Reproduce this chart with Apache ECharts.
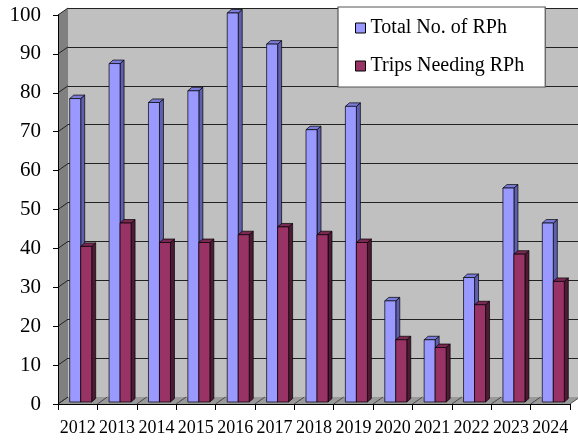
<!DOCTYPE html>
<html>
<head>
<meta charset="utf-8">
<script src="https://cdn.jsdelivr.net/npm/echarts@6/dist/echarts.min.js"></script>
<style>
html,body{margin:0;padding:0;background:#fff;}
#main{width:578px;height:441px;}
</style>
</head>
<body>
<div id="main"></div>
<script>
// ---- data ----
const years = ['2012','2013','2014','2015','2016','2017','2018','2019','2020','2021','2022','2023','2024'];
const totalRPh = [78, 87, 77, 80, 100, 92, 70, 76, 26, 16, 32, 55, 46];
const tripsNeedingRPh = [40, 46, 41, 41, 43, 45, 43, 41, 16, 14, 25, 38, 31];
const yTicks = [0, 10, 20, 30, 40, 50, 60, 70, 80, 90, 100];

// ---- layout (px) ----
const FRONT = {left: 58, top: 15, right: 570, bottom: 404};
const DEPTH = [10, -7];      // wall depth offset
const BAR_OFF = [3, -2];     // bar front plane offset
const BAR_D = [4, -3.5];     // bar depth
const BAR_W = 11;
const FONT = "Liberation Serif, DejaVu Serif, serif";

const chart = echarts.init(document.getElementById('main'), null, {renderer: 'canvas'});

function makeRender(s, front, top, side) {
  return function (params, api) {
    const i = api.value(0), v = api.value(1);
    const base = api.coord([i, 0]);
    const tp = api.coord([i, v]);
    const x0 = base[0] + BAR_OFF[0] - BAR_W + s * BAR_W;
    const yb = base[1] + BAR_OFF[1];
    const yt = tp[1] + BAR_OFF[1];
    const dx = BAR_D[0], dy = BAR_D[1];
    const stroke = {stroke: '#000', lineWidth: 0.7};
    return {
      type: 'group',
      children: [
        {type: 'polygon', shape: {points: [[x0 + BAR_W, yt], [x0 + BAR_W + dx, yt + dy], [x0 + BAR_W + dx, yb + dy], [x0 + BAR_W, yb]]},
          style: Object.assign({fill: side}, stroke)},
        {type: 'polygon', shape: {points: [[x0, yt], [x0 + dx, yt + dy], [x0 + BAR_W + dx, yt + dy], [x0 + BAR_W, yt]]},
          style: Object.assign({fill: top}, stroke)},
        {type: 'rect', shape: {x: x0, y: yt, width: BAR_W, height: yb - yt},
          style: Object.assign({fill: front}, stroke)}
      ]
    };
  };
}

const yScale = (FRONT.bottom - FRONT.top) / 100;
function yF(v) { return FRONT.bottom - v * yScale; }

// decorative walls
const graphics = [];
graphics.push({type: 'polygon', z: 1, silent: true,
  shape: {points: [[FRONT.left, FRONT.top], [FRONT.left + DEPTH[0], FRONT.top + DEPTH[1]],
                   [FRONT.left + DEPTH[0], FRONT.bottom + DEPTH[1]], [FRONT.left, FRONT.bottom]]},
  style: {fill: '#808080'}});
graphics.push({type: 'polygon', z: 1, silent: true,
  shape: {points: [[FRONT.left, FRONT.bottom], [FRONT.right, FRONT.bottom],
                   [FRONT.right + DEPTH[0], FRONT.bottom + DEPTH[1]], [FRONT.left + DEPTH[0], FRONT.bottom + DEPTH[1]]]},
  style: {fill: '#9a9a9a'}});
yTicks.forEach(function (v) {
  graphics.push({type: 'line', z: 2, silent: true,
    shape: {x1: FRONT.left, y1: yF(v), x2: FRONT.left + DEPTH[0], y2: yF(v) + DEPTH[1]},
    style: {stroke: '#222', lineWidth: 1}});
});
const band = (FRONT.right - FRONT.left) / years.length;
for (let k = 0; k <= years.length; k++) {
  const x = FRONT.left + k * band;
  graphics.push({type: 'line', z: 2, silent: true,
    shape: {x1: x, y1: FRONT.bottom, x2: x + DEPTH[0], y2: FRONT.bottom + DEPTH[1]},
    style: {stroke: '#333', lineWidth: 0.8}});
}

const option = {
  backgroundColor: '#ffffff',
  animation: false,
  textStyle: {fontFamily: FONT},
  graphic: graphics,
  legend: {
    orient: 'vertical',
    left: 338, top: 7,
    padding: [9, 21, 9, 17],
    backgroundColor: '#ffffff',
    borderColor: '#555',
    borderWidth: 1.2,
    itemWidth: 10, itemHeight: 10,
    itemGap: 14,
    icon: 'rect',
    itemStyle: {borderColor: '#000', borderWidth: 1},
    textStyle: {fontFamily: FONT, fontSize: 20, color: '#000', lineHeight: 24},
    data: ['Total No. of RPh', 'Trips Needing RPh'],
    z: 10
  },
  grid: [
    {left: FRONT.left, top: FRONT.top, width: FRONT.right - FRONT.left, height: FRONT.bottom - FRONT.top, z: 3},
    {left: FRONT.left + DEPTH[0], top: FRONT.top + DEPTH[1], width: FRONT.right - FRONT.left, height: FRONT.bottom - FRONT.top,
      show: true, backgroundColor: '#c0c0c0', borderWidth: 0, z: 0}
  ],
  xAxis: [
    {type: 'category', gridIndex: 0, data: years,
      axisLine: {lineStyle: {color: '#000', width: 1}},
      axisTick: {show: true, length: 6, lineStyle: {color: '#000'}},
      axisLabel: {fontFamily: FONT, fontSize: 18, color: '#000', margin: 15, interval: 0},
      z: 5},
    {type: 'category', gridIndex: 1, data: years, show: false}
  ],
  yAxis: [
    {type: 'value', gridIndex: 0, min: 0, max: 100, interval: 10,
      axisLine: {show: true, lineStyle: {color: '#000', width: 1}},
      axisTick: {show: true, length: 5, lineStyle: {color: '#000'}},
      axisLabel: {fontFamily: FONT, fontSize: 21, color: '#000', margin: 17},
      splitLine: {show: false}, z: 5},
    {type: 'value', gridIndex: 1, min: 0, max: 100, interval: 10,
      axisLine: {show: false}, axisTick: {show: false}, axisLabel: {show: false},
      splitLine: {show: true, lineStyle: {color: '#222', width: 1.2}}}
  ],
  series: [
    {name: 'Total No. of RPh', type: 'custom', xAxisIndex: 0, yAxisIndex: 0, z: 4,
      itemStyle: {color: '#9999ff', borderColor: '#000'},
      renderItem: makeRender(0, '#9999ff', '#7b7bd9', '#5f5fb0'),
      encode: {x: 0, y: 1},
      data: totalRPh.map(function (v, i) { return [i, v]; })},
    {name: 'Trips Needing RPh', type: 'custom', xAxisIndex: 0, yAxisIndex: 0, z: 4,
      itemStyle: {color: '#993366', borderColor: '#000'},
      renderItem: makeRender(1, '#993366', '#7a2952', '#4e1a34'),
      encode: {x: 0, y: 1},
      data: tripsNeedingRPh.map(function (v, i) { return [i, v]; })}
  ]
};
chart.setOption(option);
</script>
</body>
</html>
